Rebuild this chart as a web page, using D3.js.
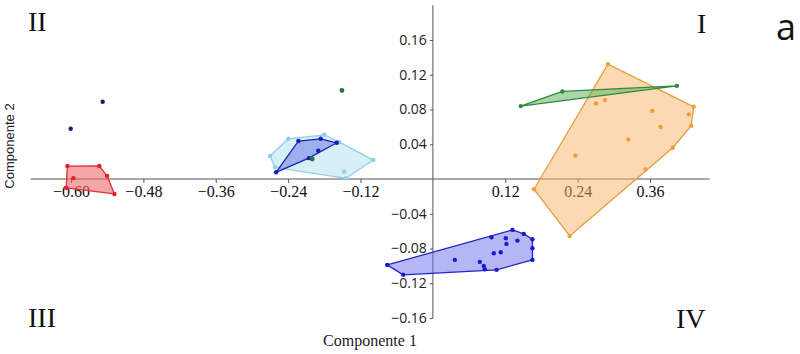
<!DOCTYPE html>
<html>
<head>
<meta charset="utf-8">
<script src="https://cdn.jsdelivr.net/npm/d3@7"></script>
<style>
  body { margin: 0; background: #fff; }
  svg { display: block; }
</style>
</head>
<body>
<div id="chart"></div>
<script>
// Score points per group (Componente 1, Componente 2)
const redPts = [[-0.606, 0.0149], [-0.553, 0.0150], [-0.540, 0.0034], [-0.528, -0.0172], [-0.608, -0.0103], [-0.596, 0.0010]];
const navyPts = [[-0.5475, 0.0889], [-0.6005, 0.0578]];
const lightBluePts = [[-0.270, 0.0264], [-0.2396, 0.0463], [-0.180, 0.0509], [-0.155, 0.0425], [-0.0988, 0.0218], [-0.144, 0.0008], [-0.2616, 0.0134], [-0.147, 0.0084]];
const midBluePts = [[-0.260, 0.0077], [-0.223, 0.0437], [-0.186, 0.0463], [-0.1594, 0.0417], [-0.190, 0.0325], [-0.2058, 0.0240]];
const greenDots = [[-0.1507, 0.102], [-0.200, 0.023]];
const greenPts = [[0.1457, 0.0839], [0.2147, 0.1008], [0.4045, 0.1072]];
const orangePts = [[0.2902, 0.1322], [0.4326, 0.0831], [0.4243, 0.0744], [0.4283, 0.0613], [0.3978, 0.0360], [0.3526, 0.0111],
  [0.2268, -0.0655], [0.1677, -0.0118], [0.2704, 0.0870], [0.2853, 0.0908], [0.3637, 0.0782], [0.3775, 0.0598],
  [0.3240, 0.0456], [0.2363, 0.0268]];
const bluePts = [[-0.0757, -0.0989], [-0.0492, -0.1103], [0.1055, -0.1046], [0.1651, -0.0931], [0.1651, -0.0797],
  [0.1651, -0.0693], [0.1507, -0.0632], [0.1320, -0.0586], [0.0972, -0.0670], [0.0364, -0.0931], [0.1209, -0.0682],
  [0.1220, -0.0747], [0.1402, -0.0709], [0.1126, -0.0843], [0.1010, -0.0854], [0.0778, -0.0954], [0.0844, -0.1000],
  [0.0861, -0.1038]];

const xTicks = [-0.60, -0.48, -0.36, -0.24, -0.12, 0.12, 0.24, 0.36];
const yTicks = [0.16, 0.12, 0.08, 0.04, -0.04, -0.08, -0.12, -0.16];
const quadrants = ["I", "II", "III", "IV"];

const width = 800, height = 354;

const svg = d3.select("#chart").append("svg")
  .attr("width", width)
  .attr("height", height);

const x = d3.scaleLinear().domain([-0.60, 0.36]).range([71, 650]);
const y = d3.scaleLinear().domain([-0.16, 0.16]).range([318, 40]);

// Axis lines through the origin
svg.append("line")
  .attr("x1", x(-0.667)).attr("x2", x(0.459))
  .attr("y1", y(0)).attr("y2", y(0))
  .attr("stroke", "#555").attr("stroke-width", 1);
svg.append("line")
  .attr("x1", x(0)).attr("x2", x(0))
  .attr("y1", y(0.200)).attr("y2", y(-0.16))
  .attr("stroke", "#555").attr("stroke-width", 1);

// X axis
const xAxis = svg.append("g")
  .attr("transform", `translate(0,${y(0)})`)
  .call(d3.axisBottom(x).tickValues(xTicks).tickFormat(d3.format(".2f")).tickSize(4).tickPadding(3));
xAxis.select(".domain").remove();
xAxis.selectAll(".tick line").attr("stroke", "#555");
xAxis.selectAll(".tick text")
  .style("font-family", "'Liberation Serif', 'DejaVu Serif', serif")
  .style("font-size", "16px")
  .attr("fill", "#111");

// Y axis
const yAxis = svg.append("g")
  .attr("transform", `translate(${x(0)},0)`)
  .call(d3.axisLeft(y).tickValues(yTicks).tickFormat(d3.format(".2f")).tickSize(3).tickPadding(3));
yAxis.select(".domain").remove();
yAxis.selectAll(".tick line").attr("stroke", "#555");
yAxis.selectAll(".tick text")
  .style("font-family", "'Open Sans', 'Liberation Sans', sans-serif")
  .style("font-size", "14px")
  .attr("fill", "#222");

// Groups: hull polygons with their points
const groups = [
  {pts: lightBluePts, fill: "#a6dcef", fillOp: 0.45, stroke: "#8fcfe6", dot: "#8fcfe6"},
  {pts: midBluePts, fill: "#5563e0", fillOp: 0.45, stroke: "#2222b0", dot: "#1c1cb8"},
  {pts: redPts, fill: "#ec6a6a", fillOp: 0.6, stroke: "#e3303a", dot: "#e3202a"},
  {pts: orangePts, fill: "#f9b46a", fillOp: 0.5, stroke: "#e3a040", dot: "#f0a030"},
  {pts: greenPts, fill: "#55b055", fillOp: 0.5, stroke: "#2e8b3a", dot: "#2e8b3a"},
  {pts: bluePts, fill: "#6a6fe8", fillOp: 0.5, stroke: "#2424c8", dot: "#1a1ad0"}
];

groups.forEach(g => {
  const hull = d3.polygonHull(g.pts.map(d => [x(d[0]), y(d[1])]));
  svg.append("path")
    .attr("d", "M" + hull.join("L") + "Z")
    .attr("fill", g.fill)
    .attr("fill-opacity", g.fillOp)
    .attr("stroke", g.stroke)
    .attr("stroke-width", 1.3)
    .attr("stroke-linejoin", "round");
  svg.append("g").selectAll("circle")
    .data(g.pts)
    .join("circle")
    .attr("cx", d => x(d[0]))
    .attr("cy", d => y(d[1]))
    .attr("r", 2.2)
    .attr("fill", g.dot);
});

// Isolated points
svg.append("g").selectAll("circle")
  .data(navyPts)
  .join("circle")
  .attr("cx", d => x(d[0]))
  .attr("cy", d => y(d[1]))
  .attr("r", 2.2)
  .attr("fill", "#1c1c6a");
svg.append("g").selectAll("circle")
  .data(greenDots)
  .join("circle")
  .attr("cx", d => x(d[0]))
  .attr("cy", d => y(d[1]))
  .attr("r", 2.4)
  .attr("fill", "#1f7a2a");

// Quadrant labels
const quadPos = {I: [697, 33], II: [28, 31], III: [28, 327], IV: [676, 328]};
svg.append("g").selectAll("text")
  .data(quadrants)
  .join("text")
  .attr("x", d => quadPos[d][0])
  .attr("y", d => quadPos[d][1])
  .style("font-family", "'Liberation Serif', 'DejaVu Serif', serif")
  .style("font-size", "28px")
  .attr("fill", "#111")
  .text(d => d);

// Axis titles
svg.append("text")
  .attr("x", 370)
  .attr("y", 346)
  .attr("text-anchor", "middle")
  .style("font-family", "'Liberation Serif', 'DejaVu Serif', serif")
  .style("font-size", "16px")
  .attr("fill", "#222")
  .text("Componente 1");

svg.append("text")
  .attr("transform", "translate(14,146) rotate(-90)")
  .attr("text-anchor", "middle")
  .style("font-family", "'Liberation Sans', Arial, sans-serif")
  .style("font-size", "13px")
  .attr("fill", "#222")
  .text("Componente 2");

// Panel letter
svg.append("text")
  .attr("x", 776)
  .attr("y", 40)
  .style("font-family", "'Open Sans', sans-serif")
  .style("font-size", "36px")
  .attr("fill", "#111")
  .text("a");
</script>
</body>
</html>
